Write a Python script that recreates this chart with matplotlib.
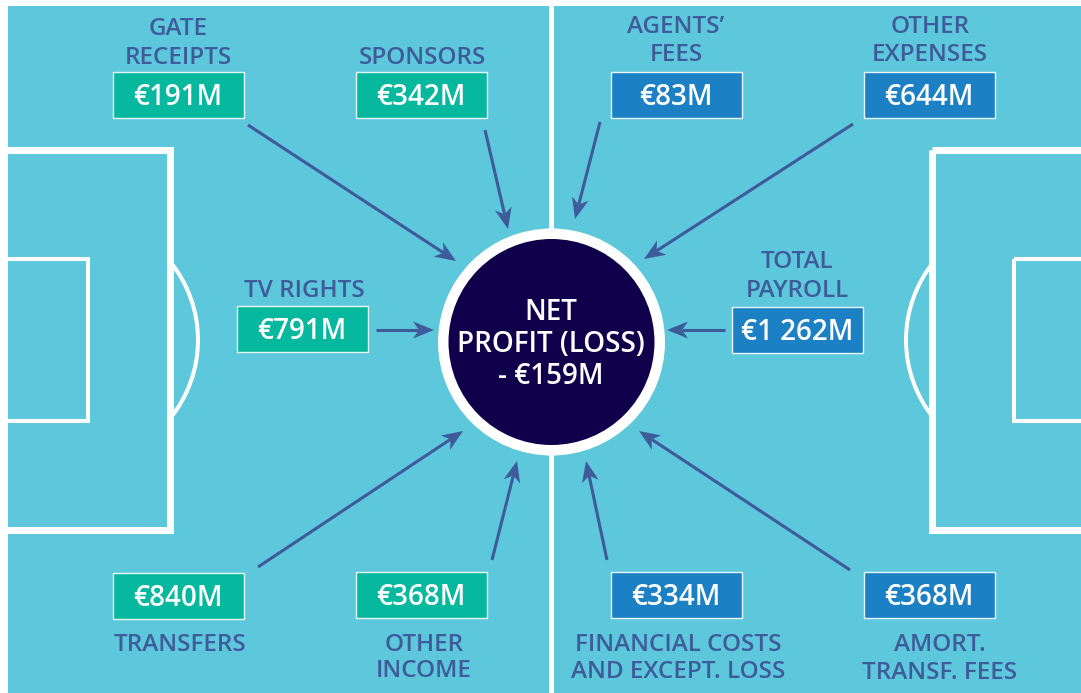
import matplotlib

matplotlib.use('Agg')
import matplotlib.pyplot as plt
from matplotlib.patches import Rectangle, Circle, Arc
import numpy as np

plt.rcParams['font.family'] = ['Open Sans', 'DejaVu Sans']

# values in million euro
income_labels = ['GATE\nRECEIPTS', 'SPONSORS', 'TV RIGHTS', 'TRANSFERS', 'OTHER\nINCOME']
income_values = [191, 342, 791, 840, 368]
expense_labels = ['AGENTS\u2019\nFEES', 'OTHER\nEXPENSES', 'TOTAL\nPAYROLL',
                  'FINANCIAL COSTS\nAND EXCEPT. LOSS', 'AMORT.\nTRANSF. FEES']
expense_values = [83, 644, 1262, 334, 368]
net_label = 'NET\nPROFIT (LOSS)'
net_value = -159

# layout (pixels): box centre, label centre x, label line y's, arrow tail/head
income_layout = [
    ((178, 95), 178, [26, 55], (248, 125), (456, 261)),
    ((421, 95), 423, [55], (485, 130), (508, 229)),
    ((302, 329), 304, [288], (376, 330), (434, 330)),
    ((178, 596), 180, [642], (258, 567), (463, 431)),
    ((421, 595), 424, [642, 668], (492, 560), (517, 461)),
]
expense_layout = [
    ((676, 95), 676, [24, 52], (600, 122), (575, 219)),
    ((929, 95), 930, [24, 52], (853, 124), (644, 259)),
    ((797, 330), 797, [259, 288], (725, 330), (667, 330)),
    ((676, 595), 678, [642, 669], (607, 560), (586, 461)),
    ((929, 595), 940, [642, 670], (850, 570), (639, 431)),
]

BG = '#5dc7db'
GREEN = '#06b89e'
BLUE = '#1c80c4'
NAVY = '#10004b'
INK = '#3e5b9a'
BOX_W, BOX_H = 131, 46


def fmt(v):
    s = '\u20ac{:,}M'.format(abs(v)).replace(',', ' ')
    return '- ' + s if v < 0 else s


def arrow(ax, tail, head):
    x0, y0 = tail
    x1, y1 = head
    d = np.hypot(x1 - x0, y1 - y0)
    ux, uy = (x1 - x0) / d, (y1 - y0) / d
    px, py = -uy, ux
    L, W, notch = 21, 8.5, 6
    bx, by = x1 - ux * L, y1 - uy * L
    nx, ny = x1 - ux * (L - notch), y1 - uy * (L - notch)
    ax.plot([x0, nx], [y0, ny], color=INK, lw=2.2, solid_capstyle='butt', zorder=5)
    ax.fill([x1, bx + px * W, nx, bx - px * W], [y1, by + py * W, ny, by - py * W],
            color=INK, lw=0, zorder=5)


def item(ax, label, value, layout, color):
    (cx, cy), lx, ly, tail, head = layout
    ax.add_patch(Rectangle((cx - BOX_W / 2, cy - BOX_H / 2), BOX_W, BOX_H,
                           facecolor=color, edgecolor='#e8f6f8', lw=1, zorder=4))
    ax.text(cx, cy + 10, fmt(value), color='white', fontsize=20, ha='center',
            va='baseline', fontweight='semibold', zorder=6)
    for line, y in zip(label.split('\n'), ly):
        ax.text(lx, y + 8.8, line, color=INK, fontsize=17.5, ha='center',
                va='baseline', fontweight='semibold', zorder=6)
    arrow(ax, tail, head)


fig = plt.figure(figsize=(10.81, 6.93), dpi=100)
fig.patch.set_facecolor('white')
ax = fig.add_axes([0, 0, 1, 1])
ax.set_xlim(0, 1081)
ax.set_ylim(693, 0)
ax.axis('off')

# pitch
ax.add_patch(Rectangle((8, 6), 1081, 700, facecolor=BG, lw=0, zorder=0))
ax.plot([551, 551], [6, 693], color='white', lw=3.6, zorder=1)
ax.add_patch(Rectangle((-20, 149.5), 190, 380.5, fill=False, edgecolor='white', lw=5, zorder=1))
ax.add_patch(Rectangle((-20, 259), 108, 162, fill=False, edgecolor='white', lw=2.9, zorder=1))
ax.add_patch(Arc((74, 340), 248, 248, theta1=-39.5, theta2=39.5, edgecolor='white', lw=2.9, zorder=1))
ax.add_patch(Rectangle((931.5, 149.5), 200, 380.5, fill=False, edgecolor='white', lw=5, zorder=1))
ax.add_patch(Rectangle((1014, 259), 120, 162, fill=False, edgecolor='white', lw=2.9, zorder=1))
ax.add_patch(Arc((1030, 340), 248, 248, theta1=140.5, theta2=219.5, edgecolor='white', lw=2.9, zorder=1))

# centre circle
ax.add_patch(Circle((551.5, 342), 113.5, facecolor='white', lw=0, zorder=2))
ax.add_patch(Circle((551.5, 342), 103, facecolor=NAVY, lw=0, zorder=3))
for line, y in zip(net_label.split('\n') + [fmt(net_value)], [311, 342.5, 374]):
    ax.text(551, y + 9.5, line, color='white', fontsize=20, ha='center', va='baseline',
            fontweight='semibold', zorder=6)

for lab, val, lay in zip(income_labels, income_values, income_layout):
    item(ax, lab, val, lay, GREEN)
for lab, val, lay in zip(expense_labels, expense_values, expense_layout):
    item(ax, lab, val, lay, BLUE)

fig.savefig('out.png', dpi=100, facecolor='white')
